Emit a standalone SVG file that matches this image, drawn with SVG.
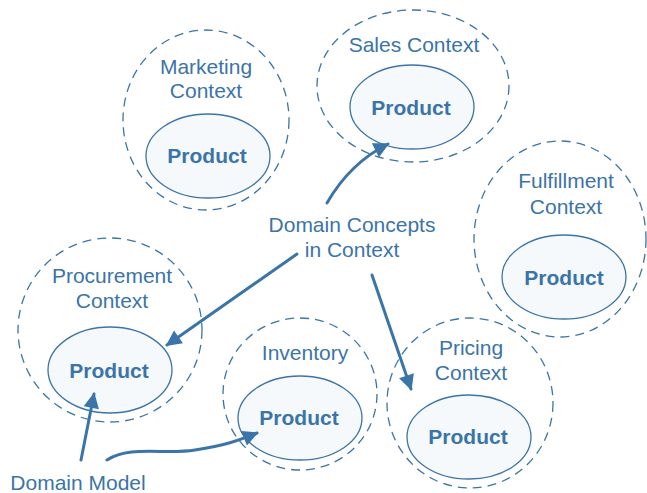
<svg xmlns="http://www.w3.org/2000/svg" width="647" height="493" viewBox="0 0 647 493">
<defs>
<style>
.ctx{fill:none;stroke:#3b74a8;stroke-width:1.3;stroke-dasharray:9 6}
.ent{fill:#f6f9fc;stroke:#3b74a8;stroke-width:1.3}
.lbl{font-family:"Liberation Sans",Arial,sans-serif;font-size:21px;fill:#3b74a8;text-anchor:middle}
.prod{font-family:"Liberation Sans",Arial,sans-serif;font-size:21px;font-weight:bold;fill:#3b74a8;text-anchor:middle}
.conn{fill:none;stroke:#3b74a8;stroke-width:3;stroke-linecap:round}
</style>
<marker id="ah" viewBox="0 0 10 10" refX="9" refY="5" markerWidth="5.8" markerHeight="5.2" markerUnits="strokeWidth" orient="auto">
<path d="M0,0 L10,5 L0,10 z" fill="#3b74a8"/>
</marker>
</defs>
<rect width="647" height="493" fill="#ffffff"/>

<g id="marketing">
<ellipse class="ctx" cx="206" cy="120" rx="83" ry="90"/>
<ellipse class="ent" cx="208" cy="156" rx="62" ry="42"/>
<text class="lbl" x="206" y="74">Marketing</text>
<text class="lbl" x="206" y="98">Context</text>
<text class="prod" x="207" y="163">Product</text>
</g>

<g id="sales">
<ellipse class="ctx" cx="413" cy="86" rx="96" ry="76"/>
<ellipse class="ent" cx="412" cy="107" rx="62" ry="42"/>
<text class="lbl" x="414" y="52">Sales Context</text>
<text class="prod" x="411" y="115">Product</text>
</g>

<g id="fulfillment">
<ellipse class="ctx" cx="560" cy="239" rx="86" ry="98"/>
<ellipse class="ent" cx="564" cy="277" rx="62" ry="42"/>
<text class="lbl" x="566" y="188">Fulfillment</text>
<text class="lbl" x="566" y="214">Context</text>
<text class="prod" x="564" y="285">Product</text>
</g>

<g id="procurement">
<ellipse class="ctx" cx="110" cy="330" rx="92" ry="92"/>
<ellipse class="ent" cx="110" cy="370" rx="62" ry="43"/>
<text class="lbl" x="112" y="283">Procurement</text>
<text class="lbl" x="112" y="308">Context</text>
<text class="prod" x="109" y="378">Product</text>
</g>

<g id="inventory">
<ellipse class="ctx" cx="300" cy="394" rx="77" ry="76"/>
<ellipse class="ent" cx="300" cy="418" rx="62" ry="42"/>
<text class="lbl" x="305" y="360">Inventory</text>
<text class="prod" x="299" y="425">Product</text>
</g>

<g id="pricing">
<ellipse class="ctx" cx="470" cy="403" rx="83" ry="85"/>
<ellipse class="ent" cx="469" cy="437" rx="62" ry="42"/>
<text class="lbl" x="471" y="355">Pricing</text>
<text class="lbl" x="471" y="380">Context</text>
<text class="prod" x="468" y="444">Product</text>
</g>

<g id="domain-concepts">
<text class="lbl" x="352" y="232">Domain Concepts</text>
<text class="lbl" x="352" y="257">in Context</text>
</g>

<g id="domain-model">
<text class="lbl" x="78" y="490">Domain Model</text>
</g>

<g id="connectors">
<path class="conn" marker-end="url(#ah)" d="M327,203 Q350,163 388,144"/>
<path class="conn" marker-end="url(#ah)" d="M297,254 L167,345"/>
<path class="conn" marker-end="url(#ah)" d="M372,275 L411,389"/>
<path class="conn" marker-end="url(#ah)" d="M81,460 L94,394"/>
<path class="conn" marker-end="url(#ah)" d="M107,460 C130,445 165,455 195,450 S235,442 257,433"/>
</g>
</svg>
